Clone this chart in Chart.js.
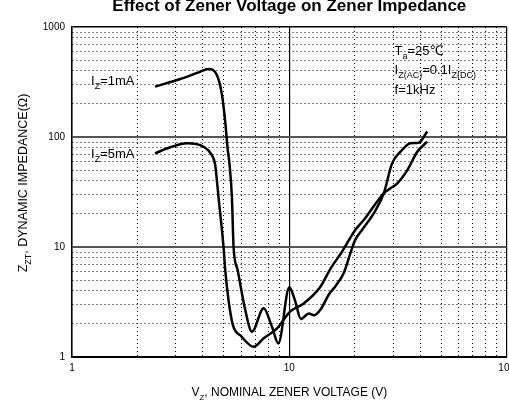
<!DOCTYPE html>
<html>
<head>
<meta charset="utf-8">
<script src="https://cdn.jsdelivr.net/npm/chart.js@4"></script>
<style>
  html, body { margin: 0; padding: 0; background: #fff; overflow: hidden; }
  #wrap { width: 520px; height: 405px; }
</style>
</head>
<body>
<div id="wrap"><canvas id="zenerChart"></canvas></div>
<script>
// Iz = 1mA curve (V, ohm)
const vz1mA  = [2.41, 3.15, 3.8, 4.25, 4.64, 4.9, 5.07, 5.2, 5.31, 5.44, 5.54, 5.78, 6.27, 6.73, 7.62, 8.32, 8.9, 10.0, 10.6, 11.3, 12.3, 13.0, 14.0, 15.2, 16.3, 17.8, 19.1, 20.1, 21.6, 24.5, 27.2, 29.7, 32.5, 36.1, 39.4, 43.1];
const zzt1mA = [287, 337, 385, 415, 366, 241, 138, 79, 55.7, 28.7, 10, 6.2, 2.67, 1.70, 2.77, 1.88, 1.33, 4.3, 3.3, 2.22, 2.48, 2.4, 2.75, 3.7, 4.4, 5.8, 8.8, 11.6, 14.3, 20.3, 30.8, 57.6, 73.5, 87.7, 88.8, 112];
// Iz = 5mA curve
const vz5mA  = [2.41, 2.83, 3.38, 4.03, 4.4, 4.56, 4.64, 4.72, 4.98, 5.07, 5.25, 5.5, 6.0, 6.85, 7.62, 8.78, 10.1, 11.6, 13.9, 15.5, 17.5, 20.1, 22.0, 27.2, 29.2, 31.4, 34.9, 38.8, 43.1];
const zzt5mA = [71, 80.6, 87.7, 81.6, 68.6, 55.7, 40.6, 28.7, 10, 6.2, 3.3, 1.95, 1.55, 1.24, 1.48, 1.82, 2.6, 3.05, 4.36, 6.4, 9.1, 14.3, 17.6, 30.8, 34.2, 37.9, 50, 73.5, 90.6];

const xTicks = [1, 2, 3, 4, 5, 6, 7, 8, 9, 10, 20, 30, 40, 50, 60, 70, 80, 90, 100];
const yTicks = [1, 2, 3, 4, 5, 6, 7, 8, 9, 10, 20, 30, 40, 50, 60, 70, 80, 90, 100, 200, 300, 400, 500, 600, 700, 800, 900, 1000];

const FONT = 'Arial, "Liberation Sans", "DejaVu Sans", sans-serif';

function isDecade(v) {
  const l = Math.log10(v);
  return Math.abs(l - Math.round(l)) < 1e-9;
}

function toPoints(xs, ys) {
  return xs.map((v, i) => ({ x: v, y: ys[i] }));
}

// draws text made of normal and subscript parts
function richText(ctx, parts, x, y, size, align) {
  const subSize = Math.round(size * 0.7);
  let w = 0;
  parts.forEach(p => {
    ctx.font = (p[1] ? subSize : size) + 'px ' + FONT;
    w += ctx.measureText(p[0]).width;
  });
  let cx = align === 'center' ? x - w / 2 : x;
  ctx.textAlign = 'left';
  ctx.textBaseline = 'alphabetic';
  parts.forEach(p => {
    ctx.font = (p[1] ? subSize : size) + 'px ' + FONT;
    ctx.fillText(p[0], cx, p[1] ? y + size * 0.3 : y);
    cx += ctx.measureText(p[0]).width;
  });
}

const textPlugin = {
  id: 'zenerText',
  afterDraw(chart) {
    const { ctx, chartArea: a, scales } = chart;
    const sx = scales.x, sy = scales.y;
    const midX = (a.left + a.right) / 2;
    ctx.save();
    ctx.fillStyle = '#000';

    ctx.font = 'bold 17px ' + FONT;
    ctx.textAlign = 'center';
    ctx.textBaseline = 'alphabetic';
    ctx.fillText('Effect of Zener Voltage on Zener Impedance', midX, 10.5);

    richText(ctx, [['V'], ['Z', 1], [', NOMINAL ZENER VOLTAGE (V)']], midX, 396, 12, 'center');

    // curve labels
    richText(ctx, [['I'], ['Z', 1], ['=1mA']], sx.getPixelForValue(1.224), sy.getPixelForValue(297), 13, 'left');
    richText(ctx, [['I'], ['Z', 1], ['=5mA']], sx.getPixelForValue(1.224), sy.getPixelForValue(64.4), 13, 'left');

    // test conditions
    const tx = sx.getPixelForValue(30.5);
    richText(ctx, [['T'], ['a', 1], ['=25\u2103']], tx, sy.getPixelForValue(556), 13, 'left');
    richText(ctx, [['I'], ['Z(AC)', 1], ['=0.1I'], ['Z(DC)', 1]], tx, sy.getPixelForValue(374), 13, 'left');
    richText(ctx, [['f=1kHz']], tx, sy.getPixelForValue(246), 13, 'left');

    ctx.translate(27, 183);
    ctx.rotate(-Math.PI / 2);
    richText(ctx, [['Z'], ['ZT', 1], [', DYNAMIC IMPEDANCE(\u03A9)']], 0, 0, 12.5, 'center');
    ctx.restore();
  }
};

const ctx = document.getElementById('zenerChart').getContext('2d');
new Chart(ctx, {
  type: 'scatter',
  data: {
    datasets: [
      { label: 'Iz=1mA', data: toPoints(vz1mA, zzt1mA) },
      { label: 'Iz=5mA', data: toPoints(vz5mA, zzt5mA) }
    ]
  },
  options: {
    responsive: true,
    maintainAspectRatio: false,
    animation: false,
    layout: { padding: { left: 42, top: 27, right: 0, bottom: 28 } },
    elements: {
      line: { borderColor: '#000', borderWidth: 2.5, cubicInterpolationMode: 'monotone', fill: false },
      point: { radius: 0, hoverRadius: 0 }
    },
    datasets: { scatter: { showLine: true } },
    plugins: { legend: { display: false }, tooltip: { enabled: false }, title: { display: false } },
    scales: {
      x: {
        type: 'logarithmic',
        min: 1, max: 100,
        afterBuildTicks: s => { s.ticks = xTicks.map(v => ({ value: v })); },
        afterFit: s => { s.height = 20; },
        ticks: {
          autoSkip: false, maxRotation: 0, padding: 5, color: '#000',
          font: { family: FONT, size: 10 },
          callback: v => isDecade(v) ? String(v) : ''
        },
        grid: {
          drawTicks: false,
          color: '#000',
          lineWidth: c => isDecade(c.tick.value) ? 1.2 : 1
        },
        border: { color: '#000', width: 1.5, dash: c => (c.tick && isDecade(c.tick.value)) ? [] : [1, 3] }
      },
      y: {
        type: 'logarithmic',
        min: 1, max: 1000,
        afterBuildTicks: s => { s.ticks = yTicks.map(v => ({ value: v })); },
        afterFit: s => { s.width = 30; },
        ticks: {
          autoSkip: false, padding: 7, color: '#000',
          font: { family: FONT, size: 10 },
          callback: v => isDecade(v) ? String(v) : ''
        },
        grid: {
          drawTicks: false,
          color: c => (c.tick.value === 1000 || c.tick.value === 1) ? '#000' : (isDecade(c.tick.value) ? '#555' : '#000'),
          lineWidth: c => c.tick.value === 1000 ? 1.5 : (isDecade(c.tick.value) ? 2 : 1)
        },
        border: { color: '#000', width: 1.5, dash: c => (c.tick && isDecade(c.tick.value)) ? [] : [1, 3] }
      }
    }
  },
  plugins: [textPlugin]
});
</script>
</body>
</html>
